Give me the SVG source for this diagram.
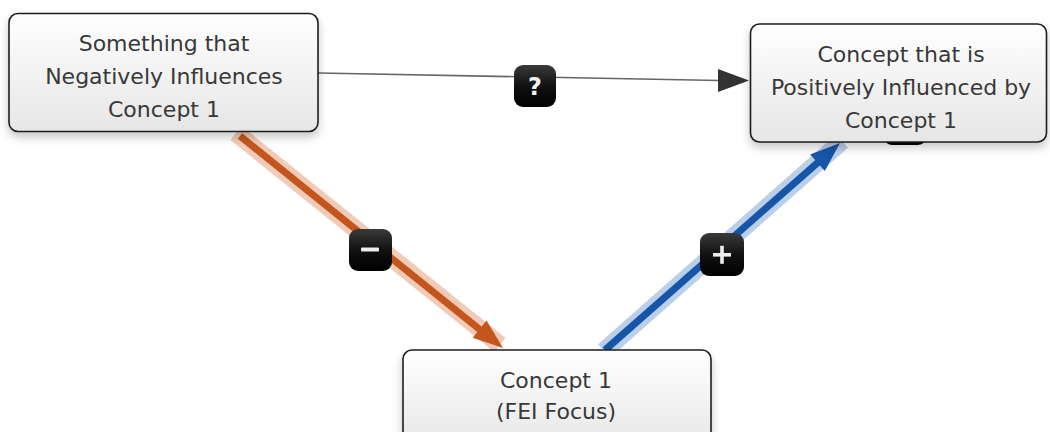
<svg xmlns="http://www.w3.org/2000/svg" width="1050" height="432" viewBox="0 0 1050 432">
<defs>
<linearGradient id="nodeGrad" x1="0" y1="0" x2="0" y2="1">
<stop offset="0" stop-color="#ffffff"/>
<stop offset="1" stop-color="#e6e6e6"/>
</linearGradient>
<linearGradient id="badgeGrad" x1="0" y1="0" x2="0" y2="1">
<stop offset="0" stop-color="#3a3a3a"/>
<stop offset="0.5" stop-color="#111111"/>
<stop offset="1" stop-color="#000000"/>
</linearGradient>
<filter id="shadow" x="-10%" y="-20%" width="120%" height="150%">
<feDropShadow dx="0" dy="5" stdDeviation="5" flood-color="#000" flood-opacity="0.22"/>
</filter>
</defs>
<style>
.node rect{fill:url(#nodeGrad);stroke:#1e1e1e;stroke-width:1.6}
.node text{font-family:"DejaVu Sans","Liberation Sans",sans-serif;font-size:22px;fill:#383838;text-anchor:middle}
.badge .bg{fill:url(#badgeGrad)}
.badge .sym{fill:#ececec}
.badge text{font-family:"DejaVu Sans","Liberation Sans",sans-serif;font-size:24px;font-weight:bold;fill:#f2f2f2;text-anchor:middle}
</style>
<rect width="1050" height="432" fill="#ffffff"/>
<g id="connectors">
<line x1="318" y1="73" x2="720" y2="80.5" stroke="#666" stroke-width="1.6"/>
<polygon points="749,80.5 718,69 718,92" fill="#333"/>
<line x1="236" y1="133" x2="500" y2="345" stroke="#efc2aa" stroke-width="18" stroke-opacity="0.85"/>
<line x1="240" y1="136" x2="481" y2="330.5" stroke="#c4561d" stroke-width="7"/>
<polygon points="503,348 472.7,337.8 486.5,320.6" fill="#c4561d"/>
<line x1="604" y1="351" x2="842" y2="141" stroke="#b4cae6" stroke-width="18" stroke-opacity="0.9"/>
<line x1="605" y1="350" x2="819" y2="161.5" stroke="#1656a8" stroke-width="7"/>
<polygon points="840,143 824.8,171.1 810.2,154.5" fill="#1656a8"/>
<g class="badge"><rect class="bg" x="883" y="103" width="44" height="42" rx="9"/></g>
<g class="badge"><rect class="bg" x="514" y="65" width="42" height="42" rx="9"/><text x="535" y="95">?</text></g>
<g class="badge"><rect class="bg" x="349" y="229" width="43" height="42" rx="9"/><rect class="sym" x="361" y="247.5" width="18" height="4" rx="1"/></g>
<g class="badge"><rect class="bg" x="700" y="233" width="44" height="43" rx="9"/><rect class="sym" x="713" y="253" width="18" height="3.6"/><rect class="sym" x="720.2" y="245.8" width="3.6" height="18"/></g>
</g>
<g id="node-negative" class="node">
<rect x="9" y="13.5" width="309" height="118" rx="9" filter="url(#shadow)"/>
<text x="164" y="51">Something that</text>
<text x="164" y="84">Negatively Influences</text>
<text x="164" y="117">Concept 1</text>
</g>
<g id="node-positive" class="node">
<rect x="750.5" y="24" width="296" height="118" rx="9" filter="url(#shadow)"/>
<text x="901" y="62">Concept that is</text>
<text x="901" y="95">Positively Influenced by</text>
<text x="901" y="128">Concept 1</text>
</g>
<g id="node-concept1" class="node">
<rect x="403" y="350" width="308" height="100" rx="9" filter="url(#shadow)"/>
<text x="556" y="388">Concept 1</text>
<text x="556" y="419">(FEI Focus)</text>
</g>
</svg>
